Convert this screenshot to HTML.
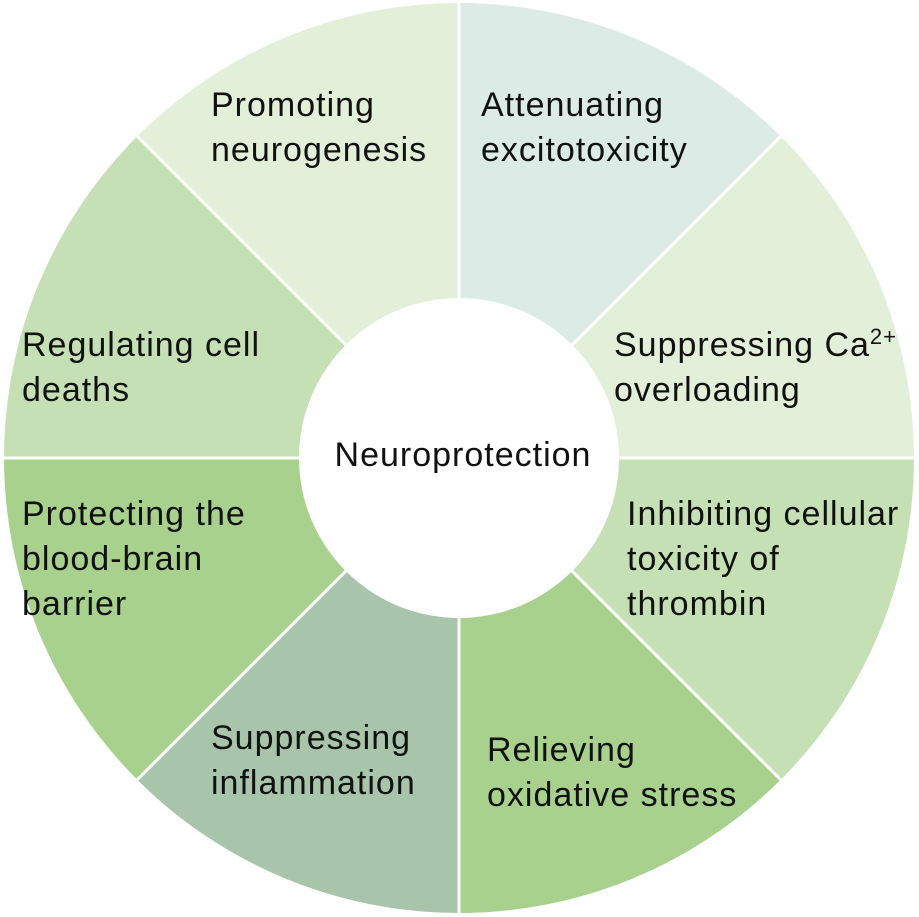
<!DOCTYPE html>
<html><head><meta charset="utf-8"><style>
html,body{margin:0;padding:0;background:#fff;}
svg{display:block;}
text{font-family:"Liberation Sans",Arial,sans-serif;font-size:34px;letter-spacing:1px;fill:#111;}
</style></head><body>
<svg width="919" height="917" viewBox="0 0 919 917" xmlns="http://www.w3.org/2000/svg">
<g transform="translate(459,458)">
<path d="M0,0 L0,-455 A455,455 0 0 1 321.7,-321.7 Z" fill="#dcebe6"/>
<path d="M0,0 L321.7,-321.7 A455,455 0 0 1 455,0 Z" fill="#e2efd9"/>
<path d="M0,0 L455,0 A455,455 0 0 1 321.7,321.7 Z" fill="#c5e0b4"/>
<path d="M0,0 L321.7,321.7 A455,455 0 0 1 0,455 Z" fill="#a9d18e"/>
<path d="M0,0 L0,455 A455,455 0 0 1 -321.7,321.7 Z" fill="#a8c5ab"/>
<path d="M0,0 L-321.7,321.7 A455,455 0 0 1 -455,0 Z" fill="#a9d18e"/>
<path d="M0,0 L-455,0 A455,455 0 0 1 -321.7,-321.7 Z" fill="#c5e0b4"/>
<path d="M0,0 L-321.7,-321.7 A455,455 0 0 1 0,-455 Z" fill="#e2efd9"/>
<g stroke="#fff" stroke-width="3">
<line x1="0" y1="-460" x2="0" y2="460"/>
<line x1="-460" y1="0" x2="460" y2="0"/>
<line x1="-330" y1="-330" x2="330" y2="330"/>
<line x1="-330" y1="330" x2="330" y2="-330"/>
</g>
<circle r="160" fill="#fff"/>
</g>
<text x="463" y="466" text-anchor="middle">Neuroprotection</text>
<text x="211" y="116">Promoting</text>
<text x="211" y="161">neurogenesis</text>
<text x="481" y="116">Attenuating</text>
<text x="481" y="161">excitotoxicity</text>
<text x="22" y="356">Regulating cell</text>
<text x="22" y="401">deaths</text>
<text x="614" y="356">Suppressing Ca<tspan font-size="22" dy="-12">2+</tspan></text>
<text x="614" y="401">overloading</text>
<text x="22" y="525">Protecting the</text>
<text x="22" y="570">blood-brain</text>
<text x="22" y="615">barrier</text>
<text x="627" y="525">Inhibiting cellular</text>
<text x="627" y="570">toxicity of</text>
<text x="627" y="615">thrombin</text>
<text x="211" y="749">Suppressing</text>
<text x="211" y="794">inflammation</text>
<text x="487" y="761">Relieving</text>
<text x="487" y="806">oxidative stress</text>
</svg>
</body></html>
